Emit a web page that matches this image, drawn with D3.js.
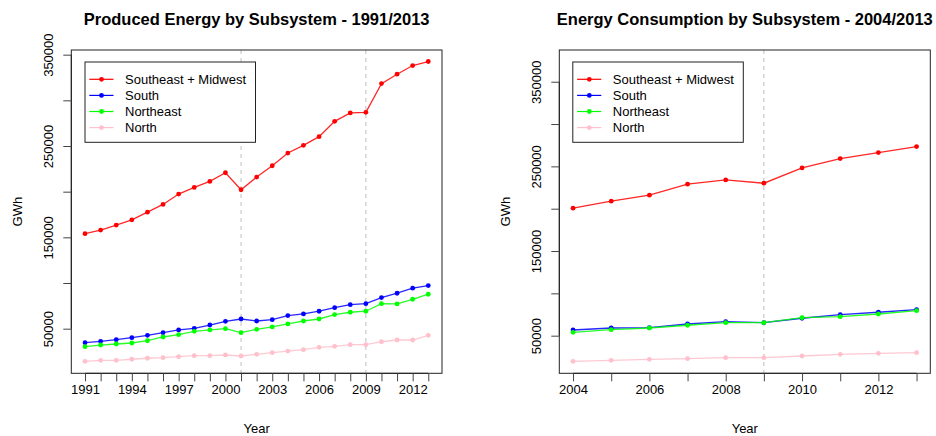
<!DOCTYPE html>
<html>
<head>
<meta charset="utf-8">
<script src="https://cdn.jsdelivr.net/npm/d3@7"></script>
<style>
  html, body { margin: 0; padding: 0; background: #fff; }
  svg { display: block; font-family: "Liberation Sans", Arial, sans-serif; }
</style>
</head>
<body>
<svg id="chart" width="936" height="436"></svg>
<script>
// Subsystem names and colours
const subsystems = ["Southeast + Midwest", "South", "Northeast", "North"];
const colors = ["#ff0000", "#0000ff", "#00ff00", "#ffc0cb"];

// Produced energy (GWh), 1991-2013
const prodYears = d3.range(1991, 2014);
const prodSEMW = [154000, 157900, 163400, 169200, 177600, 186000, 197400, 204600, 211200, 220700, 202100, 216000,
                  228400, 242300, 250700, 260200, 277000, 286200, 286900, 318300, 328600, 338100, 342500];
const prodSouth = [34650, 36150, 37940, 40130, 42700, 45600, 48600, 50400, 54000, 58100, 60600, 58400,
                   59900, 64300, 66100, 69100, 73000, 76300, 77400, 84000, 88800, 94300, 97200];
const prodNortheast = [30300, 32100, 33200, 34300, 36800, 40900, 43400, 47100, 48600, 50000, 45600, 49300,
                       51900, 55200, 58400, 60600, 65400, 68000, 69100, 77400, 77100, 82200, 87700];
const prodNorth = [14250, 15400, 15400, 16500, 17600, 18200, 19300, 20400, 20400, 21200, 20100, 21900,
                   23700, 25500, 27000, 29600, 30700, 32500, 32500, 35700, 37600, 37600, 42700];

// Energy consumption (GWh), 2004-2013
const consYears = d3.range(2004, 2014);
const consSEMW = [200600, 208900, 216000, 229000, 234000, 230100, 248200, 259200, 266300, 273400];
const consSouth = [56700, 59100, 59500, 63800, 66500, 65400, 70600, 74800, 77700, 80700];
const consNortheast = [54000, 57100, 59100, 62300, 65400, 65400, 71300, 72500, 75600, 79500];
const consNorth = [19700, 20900, 22100, 22800, 24000, 24000, 26000, 28000, 29200, 29900];

// Axis ticks
const prodYearTicks = d3.range(1991, 2014);
const prodYearLabels = d3.range(1991, 2014, 3);
const consYearTicks = d3.range(2004, 2014);
const consYearLabels = d3.range(2004, 2014, 2);
const gwhTicks = [50000, 100000, 150000, 200000, 250000, 300000, 350000];
const gwhLabels = [50000, 150000, 250000, 350000];

// Reference years marked with dashed lines
const prodMarks = [2001, 2009];
const consMarks = [2009];

const svg = d3.select("#chart");
const FONT = 13;

function panel(cfg) {
  const g = svg.append("g");
  const x = d3.scaleLinear().domain(cfg.xDomain).range([cfg.left, cfg.right]);
  const y = d3.scaleLinear().domain(cfg.yDomain).range([cfg.bottom, cfg.top]);

  // dashed reference lines
  g.selectAll("line.mark").data(cfg.marks).join("line")
    .attr("x1", d => x(d)).attr("x2", d => x(d))
    .attr("y1", cfg.top).attr("y2", cfg.bottom)
    .attr("stroke", "#bebebe").attr("stroke-width", 1)
    .attr("stroke-dasharray", "4,4");

  // series
  const line = d3.line().x((d, i) => x(cfg.years[i])).y(d => y(d));
  cfg.series.forEach((vals, k) => {
    g.append("path").datum(vals)
      .attr("fill", "none").attr("stroke", colors[k])
      .attr("stroke-width", 1.3).attr("stroke-opacity", 0.85).attr("d", line);
    g.selectAll(null).data(vals).join("circle")
      .attr("cx", (d, i) => x(cfg.years[i])).attr("cy", d => y(d))
      .attr("r", 2.4).attr("fill", colors[k]);
  });

  // plot box
  g.append("rect")
    .attr("x", cfg.left).attr("y", cfg.top)
    .attr("width", cfg.right - cfg.left).attr("height", cfg.bottom - cfg.top)
    .attr("fill", "none").attr("stroke", "#222").attr("stroke-width", 1);

  // x axis
  const xAxis = d3.axisBottom(x).tickValues(cfg.xTicks).tickSize(8).tickSizeOuter(0)
    .tickFormat(d => cfg.xLabels.includes(d) ? String(d) : "");
  const gx = g.append("g").attr("transform", `translate(0,${cfg.bottom})`).call(xAxis);
  gx.select(".domain").attr("stroke", "#222")
    .attr("d", `M${x(cfg.xTicks[0])},0H${x(cfg.xTicks[cfg.xTicks.length - 1])}`);
  gx.selectAll(".tick line").attr("stroke", "#444");
  gx.selectAll(".tick text").attr("font-size", FONT).attr("font-family", "Liberation Sans, Arial, sans-serif")
    .attr("fill", "#000").attr("y", 21).attr("dy", 0);

  // y axis
  const yAxis = d3.axisLeft(y).tickValues(cfg.yTicks).tickSize(8).tickSizeOuter(0)
    .tickFormat(d => cfg.yLabels.includes(d) ? String(d) : "");
  const gy = g.append("g").attr("transform", `translate(${cfg.left},0)`).call(yAxis);
  gy.select(".domain").attr("stroke", "#222")
    .attr("d", `M0,${y(cfg.yTicks[0])}V${y(cfg.yTicks[cfg.yTicks.length - 1])}`);
  gy.selectAll(".tick line").attr("stroke", "#444");
  gy.selectAll(".tick text").attr("font-size", FONT).attr("font-family", "Liberation Sans, Arial, sans-serif")
    .attr("fill", "#000").attr("x", 0).attr("dy", 0)
    .attr("text-anchor", "middle")
    .attr("transform", "translate(-18,0) rotate(-90)");

  // titles
  const cx = (cfg.left + cfg.right) / 2;
  g.append("text").attr("x", cx).attr("y", 24.5).attr("text-anchor", "middle")
    .attr("font-size", 16.5).attr("font-weight", "bold").attr("fill", "#000").text(cfg.title);
  g.append("text").attr("x", cx).attr("y", 433).attr("text-anchor", "middle")
    .attr("font-size", FONT).attr("fill", "#000").text("Year");
  g.append("text").attr("transform", `translate(${cfg.left - 49},${(cfg.top + cfg.bottom) / 2}) rotate(-90)`)
    .attr("text-anchor", "middle").attr("font-size", FONT).attr("fill", "#000").text("GWh");

  // legend
  const lg = g.append("g");
  lg.append("rect").attr("x", cfg.legX).attr("y", 62).attr("width", 170.5).attr("height", 80.3)
    .attr("fill", "#fff").attr("stroke", "#222").attr("stroke-width", 1);
  subsystems.forEach((name, k) => {
    const ry = 79.3 + k * 16.1;
    lg.append("line").attr("x1", cfg.legX + 4.3).attr("x2", cfg.legX + 28.5)
      .attr("y1", ry).attr("y2", ry).attr("stroke", colors[k]).attr("stroke-width", 1.2);
    lg.append("circle").attr("cx", cfg.legX + 16.5).attr("cy", ry).attr("r", 2.4).attr("fill", colors[k]);
    lg.append("text").attr("x", cfg.legX + 40).attr("y", ry + 4.6)
      .attr("font-size", FONT).attr("fill", "#000").text(name);
  });
}

panel({
  title: "Produced Energy by Subsystem - 1991/2013",
  left: 71.3, right: 442, top: 50, bottom: 373.3,
  xDomain: [1991 - 0.88, 2013 + 0.88],
  yDomain: [1140, 355110],
  years: prodYears,
  series: [prodSEMW, prodSouth, prodNortheast, prodNorth],
  xTicks: prodYearTicks, xLabels: prodYearLabels,
  yTicks: gwhTicks, yLabels: gwhLabels,
  marks: prodMarks,
  legX: 85
});

panel({
  title: "Energy Consumption by Subsystem - 2004/2013",
  left: 559.3, right: 930.3, top: 50, bottom: 373.3,
  xDomain: [2004 - 0.36, 2013 + 0.36],
  yDomain: [5560, 387470],
  years: consYears,
  series: [consSEMW, consSouth, consNortheast, consNorth],
  xTicks: consYearTicks, xLabels: consYearLabels,
  yTicks: gwhTicks, yLabels: gwhLabels,
  marks: consMarks,
  legX: 572.8
});
</script>
</body>
</html>
